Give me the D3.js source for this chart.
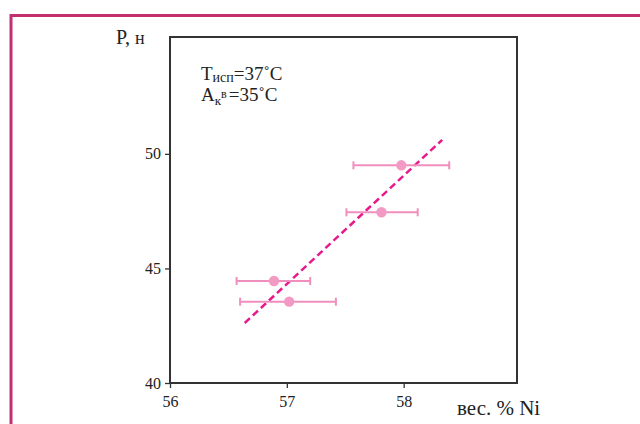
<!DOCTYPE html>
<html lang="ru">
<head>
<meta charset="utf-8">
<title>P от содержания Ni</title>
<script src="https://d3js.org/d3.v7.min.js"></script>
<style>
  body { margin: 0; background: #fff; }
  svg text { font-family: "Liberation Serif", "DejaVu Serif", serif; fill: #222; }
</style>
</head>
<body>
<div id="chart"></div>
<script>
// data
var niMean  = [57.98, 57.81, 56.89, 57.02];
var niLow   = [57.57, 57.51, 56.57, 56.60];
var niHigh  = [58.39, 58.12, 57.20, 57.42];
var force   = [49.5, 47.45, 44.45, 43.55];
var fitX    = [56.64, 58.33];
var fitY    = [42.62, 50.61];
var xTicks  = [56, 57, 58];
var yTicks  = [40, 45, 50];

var W = 640, H = 424;
var box = {left: 170, top: 37, right: 517, bottom: 383};

var svg = d3.select("#chart").append("svg")
    .attr("width", W).attr("height", H);

// outer pink frame
svg.append("path")
    .attr("d", "M11,426 L11,15.5 L642,15.5")
    .attr("fill", "none")
    .attr("stroke", "#c4306f")
    .attr("stroke-width", 3);

var x = d3.scaleLinear().domain([56, 58.97]).range([box.left, box.right]);
var y = d3.scaleLinear().domain([40, 55.1]).range([box.bottom, box.top]);

// axes
var xAxis = svg.append("g")
    .attr("transform", "translate(0," + box.bottom + ")")
    .call(d3.axisBottom(x).tickValues(xTicks).tickSize(5).tickPadding(8).tickFormat(d3.format("d")));
var yAxis = svg.append("g")
    .attr("transform", "translate(" + box.left + ",0)")
    .call(d3.axisLeft(y).tickValues(yTicks).tickSize(5).tickPadding(4).tickFormat(d3.format("d")));

[xAxis, yAxis].forEach(function(a) {
  a.select(".domain").remove();
  a.selectAll(".tick line").attr("stroke", "#333").attr("stroke-width", 1.3);
  a.selectAll(".tick text")
    .style("font-family", '"Liberation Serif", "DejaVu Serif", serif')
    .style("font-size", "16px").attr("fill", "#333");
});

// plot box
svg.append("rect")
    .attr("x", box.left).attr("y", box.top)
    .attr("width", box.right - box.left).attr("height", box.bottom - box.top)
    .attr("fill", "none").attr("stroke", "#333").attr("stroke-width", 2);

// fit line
svg.append("line")
    .attr("x1", x(fitX[0])).attr("y1", y(fitY[0]))
    .attr("x2", x(fitX[1])).attr("y2", y(fitY[1]))
    .attr("stroke", "#e8198b").attr("stroke-width", 2.5)
    .attr("stroke-dasharray", "7,4");

// error bars
var pink = "#f08fbd";
var pts = force.map(function(f, i) {
  return {x: niMean[i], lo: niLow[i], hi: niHigh[i], y: f};
});
var g = svg.append("g");
g.selectAll(".bar").data(pts).enter().append("line")
    .attr("x1", function(d) { return x(d.lo); })
    .attr("x2", function(d) { return x(d.hi); })
    .attr("y1", function(d) { return y(d.y); })
    .attr("y2", function(d) { return y(d.y); })
    .attr("stroke", pink).attr("stroke-width", 2);
g.selectAll(".capL").data(pts).enter().append("line")
    .attr("x1", function(d) { return x(d.lo); })
    .attr("x2", function(d) { return x(d.lo); })
    .attr("y1", function(d) { return y(d.y) - 4; })
    .attr("y2", function(d) { return y(d.y) + 4; })
    .attr("stroke", pink).attr("stroke-width", 2);
g.selectAll(".capR").data(pts).enter().append("line")
    .attr("x1", function(d) { return x(d.hi); })
    .attr("x2", function(d) { return x(d.hi); })
    .attr("y1", function(d) { return y(d.y) - 4; })
    .attr("y2", function(d) { return y(d.y) + 4; })
    .attr("stroke", pink).attr("stroke-width", 2);
g.selectAll("circle").data(pts).enter().append("circle")
    .attr("cx", function(d) { return x(d.x); })
    .attr("cy", function(d) { return y(d.y); })
    .attr("r", 5.2)
    .attr("fill", "#f29ac4");

// axis titles
var yl = svg.append("text").attr("x", 116).attr("y", 44).attr("font-size", 20);
yl.append("tspan").text("P,");
yl.append("tspan").attr("font-size", 18).attr("dx", 5).text("н");

svg.append("text").attr("x", 457).attr("y", 415).attr("font-size", 21)
    .text("вес. % Ni");

// annotation
var t1 = svg.append("text").attr("x", 201).attr("y", 80).attr("font-size", 19);
t1.append("tspan").text("T");
t1.append("tspan").attr("font-size", 14).attr("dy", 2).text("исп");
t1.append("tspan").attr("dy", -2).text("=37˚C");

var t2 = svg.append("text").attr("x", 201).attr("y", 101).attr("font-size", 19);
t2.append("tspan").text("A");
t2.append("tspan").attr("font-size", 13).attr("dy", 4).text("к");
t2.append("tspan").attr("font-size", 12).attr("dy", -7).text("в");
t2.append("tspan").attr("dy", 3).attr("dx", 2).text("=35˚C");
</script>
</body>
</html>
